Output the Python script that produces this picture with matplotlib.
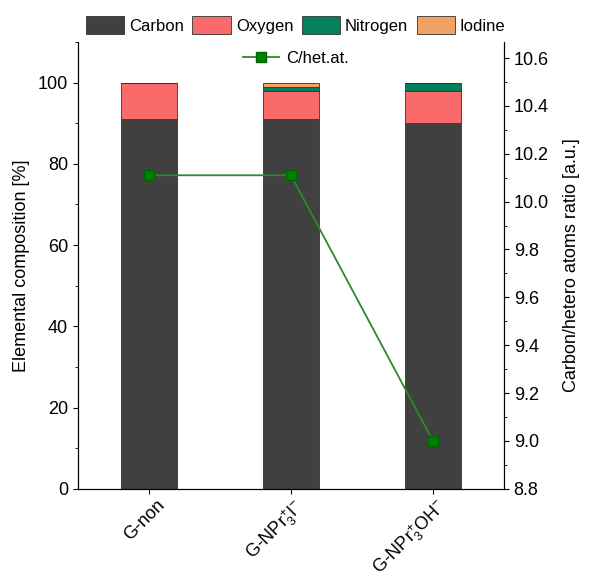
import matplotlib
matplotlib.use("Agg")
import matplotlib.pyplot as plt
import matplotlib.transforms as mtransforms
from matplotlib.ticker import MultipleLocator, FormatStrFormatter

plt.rcParams['font.family'] = ['Liberation Sans', 'DejaVu Sans']
plt.rcParams['mathtext.fontset'] = 'custom'
plt.rcParams['mathtext.rm'] = 'Liberation Sans'
plt.rcParams['mathtext.it'] = 'Liberation Sans'

categories = ['G-non', r'G-NPr$\mathregular{_3^{+}}$I$\mathregular{^{-}}$', r'G-NPr$\mathregular{_3^{+}}$OH$\mathregular{^{-}}$']
carbon = [91.0, 91.0, 90.0]
oxygen = [9.0, 7.0, 8.0]
nitrogen = [0.0, 1.0, 2.0]
iodine = [0.0, 1.0, 0.0]
ratio = [10.11, 10.11, 9.0]

colors = {'Carbon': '#404040', 'Oxygen': '#fa6a6a', 'Nitrogen': '#06805c', 'Iodine': '#f2a262'}

fig = plt.figure(figsize=(5.95, 5.75), dpi=100)
ax = fig.add_axes([0.131, 0.150, 0.716, 0.777])
x = list(range(len(categories)))
w = 0.4
bottom = [0.0] * 3
handles = []
for name, vals in [('Carbon', carbon), ('Oxygen', oxygen), ('Nitrogen', nitrogen), ('Iodine', iodine)]:
    h = ax.bar(x, vals, w, bottom=bottom, color=colors[name], edgecolor='#333333', linewidth=0.6, label=name)
    handles.append(h)
    bottom = [b + v for b, v in zip(bottom, vals)]

ax.set_xlim(-0.5, 2.5)
ax.set_ylim(0, 110)
ax.yaxis.set_major_locator(MultipleLocator(20))
ax.yaxis.set_minor_locator(MultipleLocator(10))
ax.set_ylabel('Elemental composition [%]', fontsize=13, labelpad=6)
ax.tick_params(axis='both', direction='out', labelsize=13)
ax.tick_params(axis='x', pad=2)
ax.set_xticks(x)
ax.set_xticklabels(categories, rotation=45, ha='right', fontsize=13)
offset = mtransforms.ScaledTranslation(19 / 100, 0, fig.dpi_scale_trans)
for lab in ax.get_xticklabels():
    lab.set_transform(lab.get_transform() + offset)
ax.spines['top'].set_visible(False)

ax2 = ax.twinx()
ln, = ax2.plot(x, ratio, color='#2a8a2a', linewidth=1.3, marker='s', markersize=7,
               markerfacecolor='#008000', markeredgecolor='#006400', label='C/het.at.')
ax2.set_ylim(8.8, 10.667)
ax2.yaxis.set_major_locator(MultipleLocator(0.2))
ax2.yaxis.set_minor_locator(MultipleLocator(0.1))
ax2.yaxis.set_major_formatter(FormatStrFormatter('%.1f'))
ax2.set_ylabel('Carbon/hetero atoms ratio [a.u.]', fontsize=13, labelpad=10)
ax2.tick_params(axis='y', direction='out', labelsize=13)
ax2.spines['top'].set_visible(False)

fig.legend(handles=handles, loc='center', bbox_to_anchor=(0.497, 0.956), ncol=4, frameon=False,
           fontsize=12, handlelength=2.3, handleheight=1.3, columnspacing=0.5, handletextpad=0.3,
           borderaxespad=0)
fig.legend(handles=[ln], loc='center', bbox_to_anchor=(0.497, 0.899), frameon=False, fontsize=12,
           handlelength=2.2, handletextpad=0.4)

fig.savefig('out.png', dpi=100)
